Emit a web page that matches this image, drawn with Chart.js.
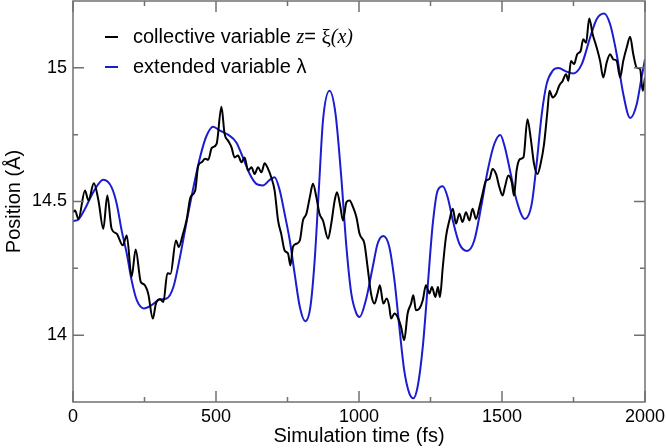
<!DOCTYPE html>
<html><head><meta charset="utf-8">
<script src="https://cdn.jsdelivr.net/npm/chart.js@4.4.1/dist/chart.umd.min.js"></script>
<style>html,body{margin:0;padding:0;background:#fff;overflow:hidden}</style>
</head><body>
<canvas id="c" width="666" height="448"></canvas>
<script>
// ---- data ----
const cvTime = [0,7,19,42,54,73,89,106,120,135,153,174,188,205,219,237,248,263,279,290,304,316,330,341,360,370,383,397,411,427,438,450,462,473,485,502,519,530,542,554,565,577,589,600,612,624,635,647,659,670,682,693,705,717,728,740,752,760,769,781,793,804,816,828,839,851,862,874,892,903,915,923,935,944,956,967,979,991,1002,1019,1030,1042,1054,1065,1073,1085,1097,1106,1112,1124,1135,1147,1158,1170,1182,1190,1199,1211,1223,1234,1246,1255,1267,1276,1283,1293,1304,1316,1328,1339,1351,1362,1374,1386,1397,1409,1421,1432,1444,1456,1467,1479,1491,1502,1510,1522,1534,1542,1551,1563,1575,1589,1600,1612,1624,1635,1647,1659,1666,1677,1689,1700,1712,1724,1732,1741,1752,1763,1775,1784,1794,1805,1817,1831,1843,1854,1866,1878,1889,1901,1913,1924,1936,1948,1959,1971,1983,1992,2000];
const cvValue = [14.46,14.466,14.435,14.541,14.504,14.568,14.504,14.398,14.522,14.398,14.379,14.336,14.373,14.218,14.32,14.199,14.19,14.155,14.062,14.118,14.134,14.124,14.232,14.23,14.354,14.33,14.373,14.43,14.516,14.54,14.634,14.647,14.66,14.656,14.70,14.715,14.854,14.753,14.728,14.703,14.665,14.672,14.647,14.665,14.616,14.628,14.603,14.628,14.609,14.643,14.622,14.591,14.541,14.429,14.379,14.317,14.305,14.261,14.33,14.342,14.354,14.429,14.454,14.516,14.566,14.516,14.454,14.429,14.361,14.417,14.504,14.535,14.479,14.429,14.497,14.504,14.479,14.441,14.379,14.342,14.255,14.156,14.118,14.156,14.187,14.118,14.137,14.106,14.062,14.081,14.068,14.031,13.981,14.081,14.118,14.149,14.093,14.099,14.131,14.187,14.156,14.18,14.143,14.18,14.143,14.255,14.367,14.429,14.473,14.417,14.454,14.423,14.46,14.429,14.473,14.435,14.479,14.529,14.578,14.584,14.622,14.603,14.553,14.522,14.553,14.597,14.572,14.522,14.616,14.659,14.665,14.808,14.74,14.641,14.603,14.641,14.715,14.84,14.914,14.889,14.902,14.933,14.951,14.976,14.951,15.026,15.014,15.051,15.063,15.107,15.094,15.185,15.126,15.076,15.026,14.964,15.02,15.051,15.032,15.026,14.964,15.026,15.076,15.116,15.051,15.001,14.995,14.914,14.964];
const evTime = [0,19,42,71,106,135,153,170,188,205,223,248,275,304,327,351,374,397,421,444,467,490,514,542,571,594,618,641,664,688,705,723,740,758,775,793,812,830,845,860,874,897,918,938,956,973,991,1002,1024,1048,1065,1085,1106,1124,1141,1158,1176,1190,1205,1223,1240,1258,1275,1293,1310,1328,1351,1378,1403,1427,1450,1473,1494,1510,1528,1551,1580,1604,1621,1639,1656,1677,1697,1726,1749,1779,1808,1831,1857,1878,1901,1924,1948,1971,1988,2000];
const evValue = [14.427,14.433,14.473,14.535,14.581,14.553,14.491,14.392,14.305,14.205,14.131,14.10,14.112,14.134,14.137,14.18,14.292,14.423,14.553,14.665,14.746,14.78,14.765,14.75,14.721,14.665,14.603,14.566,14.56,14.581,14.591,14.541,14.454,14.354,14.23,14.106,14.052,14.106,14.28,14.553,14.802,14.914,14.827,14.591,14.33,14.156,14.081,14.068,14.131,14.255,14.342,14.371,14.33,14.205,14.031,13.869,13.782,13.764,13.807,13.956,14.18,14.417,14.541,14.557,14.516,14.429,14.342,14.315,14.354,14.479,14.616,14.715,14.749,14.703,14.616,14.504,14.435,14.491,14.641,14.827,14.939,14.989,14.999,14.986,14.979,15.014,15.113,15.182,15.203,15.163,15.051,14.902,14.812,14.864,14.964,15.032];
const xTickValues = [0,500,1000,1500,2000];
const xMinorValues = [250,750,1250,1750];
const yTickValues = [14,14.5,15];
const yMinorValues = [14.25,14.75];
const xTitle = 'Simulation time (fs)';
const yTitle = 'Position (Å)';
// legend: list of [text, style] runs
const legendCV = [['collective variable ','sans'],['z','ital'],['= ','sans'],['ξ','serif'],['(x)','ital']];
const legendEV = [['extended variable λ','sans']];

const SANS = '"Liberation Sans", Arial, Helvetica, sans-serif';
const SERIF = '"Liberation Serif", "Times New Roman", serif';
const FRAME = '#707070';
const BLUE = '#1c1cd0';

const framePlugin = {
  id: 'frame',
  afterDatasetsDraw(chart) {
    const {ctx, chartArea: a, scales: {x, y}} = chart;
    ctx.save();
    ctx.strokeStyle = FRAME;
    ctx.lineWidth = 1.5;
    ctx.strokeRect(a.left, a.top, a.right - a.left, a.bottom - a.top);
    ctx.beginPath();
    const tick = (vals, len) => {
      vals.forEach(v => {
        const px = x.getPixelForValue(v);
        ctx.moveTo(px, a.bottom); ctx.lineTo(px, a.bottom - len);
        ctx.moveTo(px, a.top); ctx.lineTo(px, a.top + len);
      });
    };
    const tickY = (vals, len) => {
      vals.forEach(v => {
        const py = y.getPixelForValue(v);
        ctx.moveTo(a.left, py); ctx.lineTo(a.left + len, py);
        ctx.moveTo(a.right, py); ctx.lineTo(a.right - len, py);
      });
    };
    tick(xTickValues, 11); tick(xMinorValues, 5);
    tickY(yTickValues, 11); tickY(yMinorValues, 5);
    ctx.stroke();
    ctx.restore();
  }
};

const legendPlugin = {
  id: 'customLegend',
  afterDraw(chart) {
    const ctx = chart.ctx;
    const rows = [[legendCV, '#000000', 37], [legendEV, BLUE, 67]];
    ctx.save();
    rows.forEach(([runs, color, yy]) => {
      ctx.strokeStyle = color; ctx.lineWidth = 2;
      ctx.beginPath(); ctx.moveTo(105, yy); ctx.lineTo(118, yy); ctx.stroke();
      let xx = 133;
      ctx.fillStyle = '#000'; ctx.textBaseline = 'middle'; ctx.textAlign = 'left';
      runs.forEach(([t, s]) => {
        ctx.font = s === 'sans' ? '20px ' + SANS : (s === 'ital' ? 'italic 20px ' + SERIF : '21px ' + SERIF);
        ctx.fillText(t, xx, yy + (s === 'sans' ? 0 : 1));
        xx += ctx.measureText(t).width;
      });
    });
    ctx.restore();
  }
};

new Chart(document.getElementById('c'), {
  type: 'line',
  data: {
    datasets: [
      { label: 'collective variable', data: cvTime.map((t, i) => ({x: t, y: cvValue[i]})),
        borderColor: '#000000', borderWidth: 2, pointRadius: 0, cubicInterpolationMode: 'monotone', fill: false },
      { label: 'extended variable', data: evTime.map((t, i) => ({x: t, y: evValue[i]})),
        borderColor: BLUE, borderWidth: 2, pointRadius: 0, cubicInterpolationMode: 'monotone', fill: false }
    ]
  },
  options: {
    responsive: false, animation: false, devicePixelRatio: 1,
    layout: { padding: { left: 0, right: 21, top: 1, bottom: 0 } },
    plugins: { legend: { display: false }, tooltip: { enabled: false } },
    scales: {
      x: {
        type: 'linear', min: 0, max: 2000,
        afterBuildTicks: s => { s.ticks = xTickValues.map(v => ({value: v})); },
        afterFit: s => { s.height = 46; s.paddingLeft = 0; s.paddingRight = 0; },
        ticks: { callback: v => String(v), color: '#000', font: { size: 18, family: SANS }, padding: 4, maxRotation: 0, autoSkip: false },
        grid: { display: false, drawTicks: false },
        border: { display: false },
        title: { display: true, text: xTitle, color: '#000', font: { size: 20, family: SANS }, padding: 0 }
      },
      y: {
        type: 'linear', min: 13.75, max: 15.25,
        afterBuildTicks: s => { s.ticks = yTickValues.map(v => ({value: v})); },
        afterFit: s => { s.width = 73; s.paddingTop = 0; s.paddingBottom = 0; },
        ticks: { callback: v => String(v), color: '#000', font: { size: 18, family: SANS }, padding: 6, autoSkip: false },
        grid: { display: false, drawTicks: false },
        border: { display: false },
        title: { display: true, text: yTitle, color: '#000', font: { size: 20, family: SANS }, padding: { top: 2, bottom: 0 } }
      }
    }
  },
  plugins: [framePlugin, legendPlugin]
});
</script>
</body></html>
